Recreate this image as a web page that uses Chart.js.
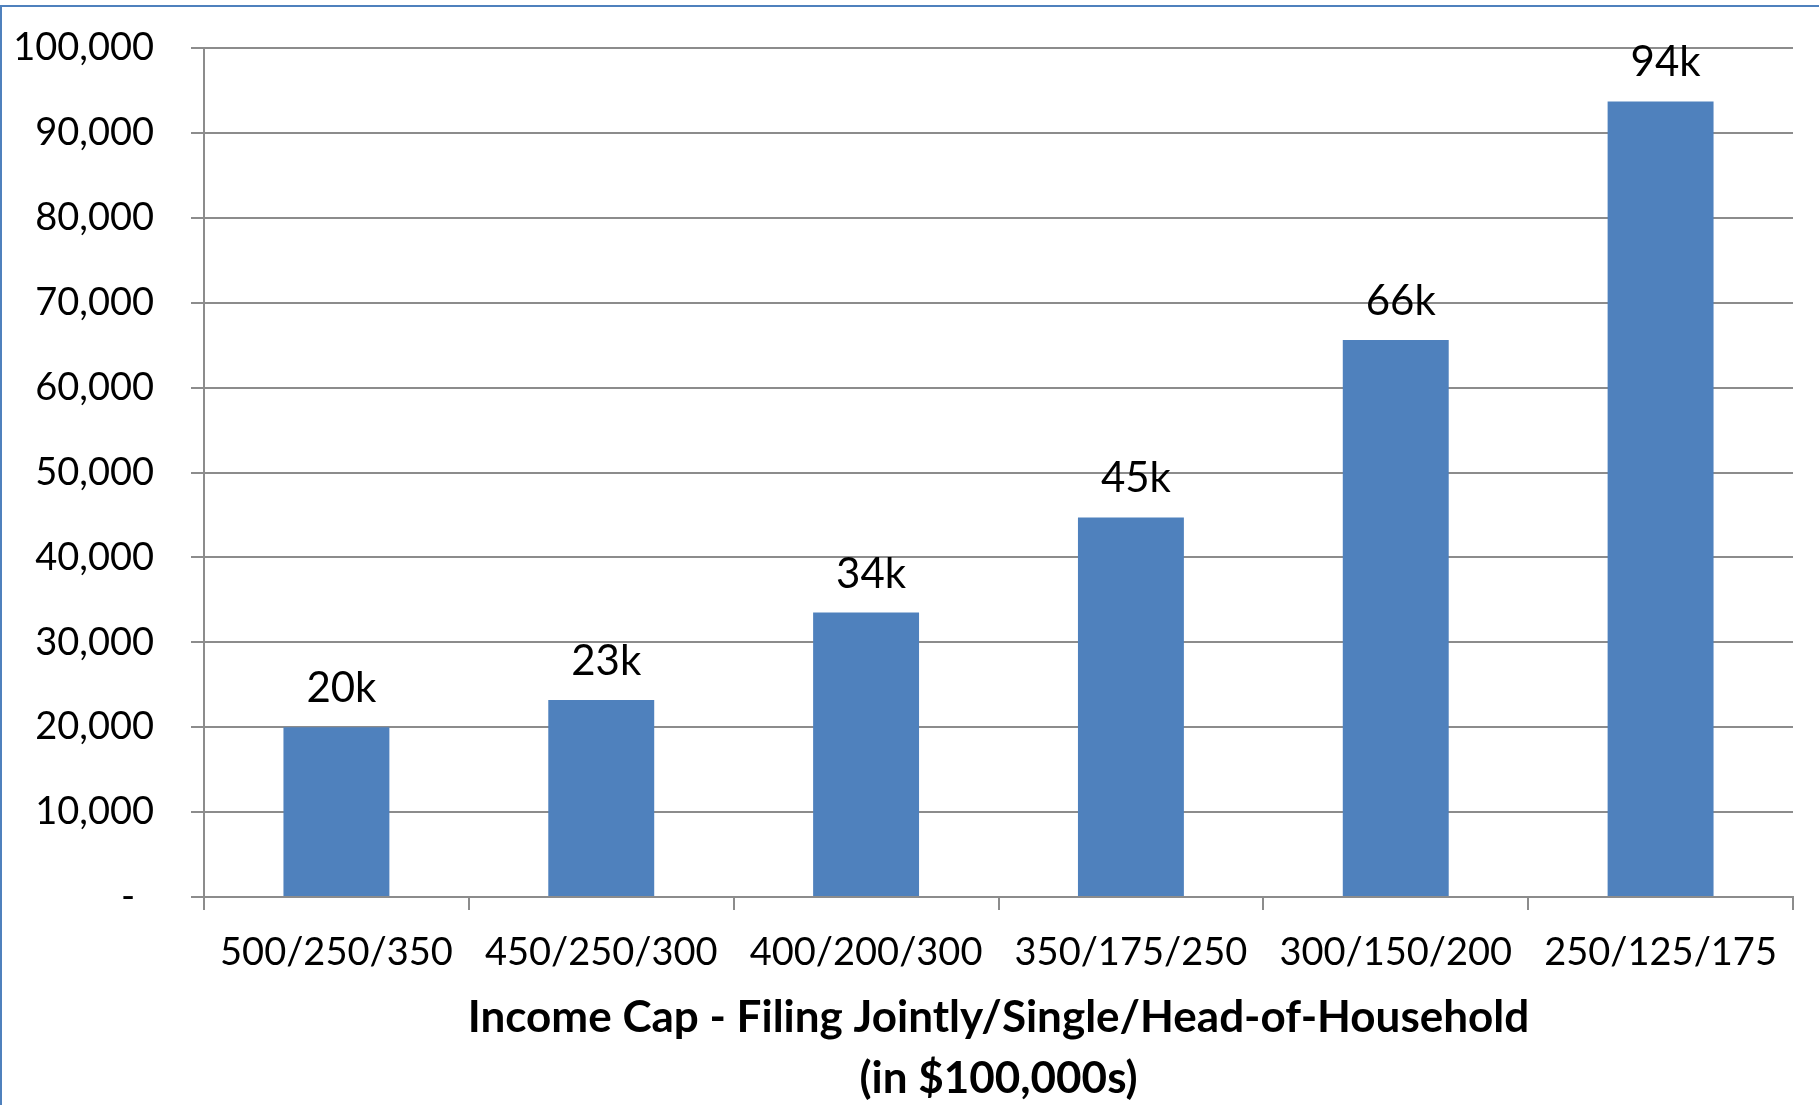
<!DOCTYPE html>
<html>
<head>
<meta charset="utf-8">
<script src="https://cdn.jsdelivr.net/npm/chart.js@4.4.1/dist/chart.umd.min.js"></script>
<style>
  body { margin: 0; background: #fff; overflow: hidden; }
  .frame { position: absolute; left: 0; top: 5px; width: 1830px; height: 1120px;
           border-left: 2px solid #4F81BD; border-top: 2px solid #4F81BD; }
  #incomeChart { position: absolute; left: 0; top: 0; }
</style>
</head>
<body>
<div class="frame"></div>
<canvas id="incomeChart" width="1819" height="1105"></canvas>
<script>
// values
const categories = ["500/250/350", "450/250/300", "400/200/300", "350/175/250", "300/150/200", "250/125/175"];
const households = [20000, 23200, 33500, 44700, 65600, 93700];
const barLabels = ["20k", "23k", "34k", "45k", "66k", "94k"];
const yTicks = [0, 10000, 20000, 30000, 40000, 50000, 60000, 70000, 80000, 90000, 100000];
const axisTitle = ["Income Cap - Filing Jointly/Single/Head-of-Household", "(in $100,000s)"];

const fontName = "Lato, 'Open Sans', sans-serif";
const gridColor = "#8c8c8c";

// little labels over the bars (no datalabels plugin offline)
const barTextPlugin = {
  id: "barText",
  afterDatasetsDraw(chart) {
    const ctx = chart.ctx;
    const meta = chart.getDatasetMeta(0);
    ctx.save();
    ctx.font = "42px " + fontName;
    ctx.fillStyle = "#000";
    ctx.textAlign = "center";
    ctx.textBaseline = "alphabetic";
    meta.data.forEach((bar, i) => {
      ctx.fillText(barLabels[i], bar.x + 5, bar.y - 25);
    });
    ctx.restore();
  }
};

new Chart(document.getElementById("incomeChart"), {
  type: "bar",
  data: {
    labels: categories,
    datasets: [{
      data: households,
      backgroundColor: "#4F81BD",
      borderWidth: 0,
      barPercentage: 0.4,
      categoryPercentage: 1
    }]
  },
  options: {
    responsive: false,
    animation: false,
    layout: { padding: { left: 0, right: 26, top: 48, bottom: 0 } },
    plugins: {
      legend: { display: false },
      tooltip: { enabled: false }
    },
    scales: {
      x: {
        grid: { display: true, drawOnChartArea: false, offset: true, color: gridColor, lineWidth: 2, tickLength: 13 },
        border: { color: gridColor, width: 2 },
        ticks: { color: "#000", padding: 20, font: { family: fontName, size: 38, lineHeight: 1.2 } },
        title: {
          display: true,
          text: axisTitle,
          color: "#000",
          font: { family: fontName, size: 44, weight: "bold", lineHeight: 1.4 },
          padding: { top: 0, bottom: -5 }
        },
        afterFit(scale) { scale.height = 208; }
      },
      y: {
        min: 0,
        max: 100000,
        afterBuildTicks(scale) { scale.ticks = yTicks.map(v => ({ value: v })); },
        grid: { color: gridColor, lineWidth: 2, tickLength: 13 },
        border: { color: gridColor, width: 2 },
        ticks: {
          color: "#000",
          padding: 37,
          font: { family: fontName, size: 38 },
          callback: v => v === 0 ? "-\u2002" : v.toLocaleString("en-US")
        },
        afterFit(scale) {
          scale.width = 204;
          // the big label padding should not push the plot down
          scale.paddingTop = 20;
          scale.paddingBottom = 20;
        }
      }
    }
  },
  plugins: [barTextPlugin]
});
</script>
</body>
</html>
